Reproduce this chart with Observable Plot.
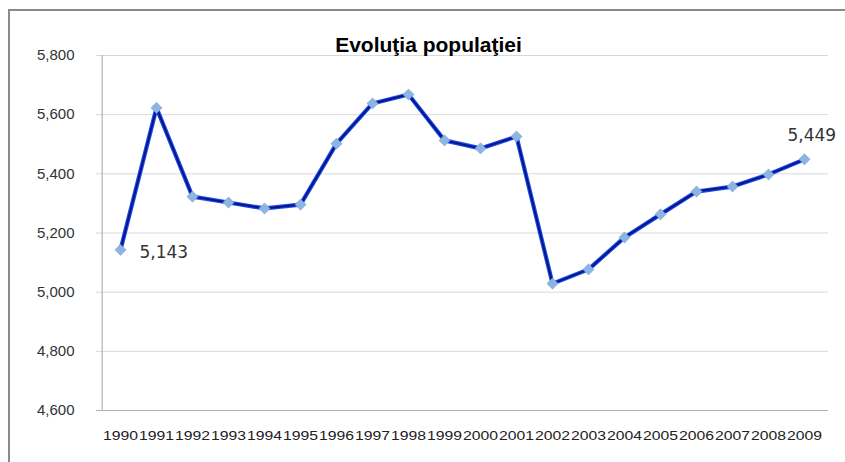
<!DOCTYPE html>
<html>
<head>
<meta charset="utf-8">
<script src="https://cdn.jsdelivr.net/npm/d3@7"></script>
<script src="https://cdn.jsdelivr.net/npm/@observablehq/plot@0.6"></script>
<style>
  html, body { margin: 0; padding: 0; background: #fff; }
  #wrap { position: relative; width: 845px; height: 462px; overflow: hidden; }
  #border { position: absolute; left: 8px; top: 9px; width: 860px; height: 470px;
            border-left: 2px solid #8a8a8a; border-top: 2px solid #8a8a8a; box-sizing: border-box; }
  #chart { position: absolute; left: 0; top: 0; }
</style>
</head>
<body>
<div id="wrap"><div id="border"></div><div id="chart"></div></div>
<script>
const title = "Evoluţia populaţiei";
const years = ["1990","1991","1992","1993","1994","1995","1996","1997","1998","1999",
               "2000","2001","2002","2003","2004","2005","2006","2007","2008","2009"];
const population = [5143, 5623, 5323, 5303, 5283, 5296, 5502, 5638, 5668, 5513,
                    5486, 5526, 5029, 5077, 5185, 5263, 5340, 5357, 5398, 5449];
const yTicks = [4600, 4800, 5000, 5200, 5400, 5600, 5800];
const labeledYears = ["1990", "2009"];

const data = years.map((year, i) => ({year, value: population[i]}));
const firstLabel = data.filter(d => d.year === labeledYears[0]);
const lastLabel = data.filter(d => d.year === labeledYears[1]);
const fmt = d3.format(",");

const W = 845, ML = 96, MR = 17;
const bandHalf = (W - ML - MR) / years.length / 2;

const chart = Plot.plot({
  width: W,
  height: 462,
  marginLeft: ML,
  marginRight: MR,
  marginTop: 55,
  marginBottom: 52,
  style: {background: "transparent", fontFamily: "Arial, 'Liberation Sans', sans-serif"},
  x: {type: "band", domain: years, padding: 0, label: null},
  y: {domain: [4600, 5800], label: null},
  marks: [
    Plot.gridY(yTicks, {stroke: "#d9d9d9", strokeOpacity: 1, strokeWidth: 1}),
    Plot.ruleX([years[0]], {dx: -bandHalf, stroke: "#b3b3b3", strokeWidth: 1.2}),
    Plot.ruleY([4600], {stroke: "#b3b3b3", strokeWidth: 1.2}),
    Plot.axisY(yTicks, {tickSize: 0, tickPadding: 22, tickFormat: fmt, fontSize: 15, fill: "#333", label: null}),
    Plot.axisX({tickSize: 0, tickPadding: 21, fontSize: 12, fill: "#222", label: null}),
    Plot.line(data, {x: "year", y: "value", stroke: "#1a4cf0", strokeWidth: 4.2, strokeLinejoin: "round"}),
    Plot.line(data, {x: "year", y: "value", stroke: "#0a1585", strokeWidth: 2, strokeLinejoin: "round"}),
    Plot.dot(data, {x: "year", y: "value", symbol: "diamond2", r: 5, fill: "#8db4e2", stroke: "#7aa3d8", strokeWidth: 0.6}),
    Plot.text(firstLabel, {x: "year", y: "value", text: d => fmt(d.value), textAnchor: "start", dx: 19, dy: 3,
      fontSize: 17, fill: "#333", fontFamily: "'DejaVu Sans', sans-serif"}),
    Plot.text(lastLabel, {x: "year", y: "value", text: d => fmt(d.value), textAnchor: "start", dx: -17, dy: -24,
      fontSize: 17, fill: "#333", fontFamily: "'DejaVu Sans', sans-serif"}),
    Plot.text([title], {frameAnchor: "top", dx: -34, dy: -18, fontSize: 21, fontWeight: "bold", fill: "#000",
      fontFamily: "Arial, 'Liberation Sans', sans-serif"})
  ]
});
// stretch the year labels horizontally, as in the reference
d3.select(chart).selectAll("g[aria-label='x-axis tick label'] text")
  .attr("textLength", 35).attr("lengthAdjust", "spacingAndGlyphs");
document.getElementById("chart").appendChild(chart);
</script>
</body>
</html>
